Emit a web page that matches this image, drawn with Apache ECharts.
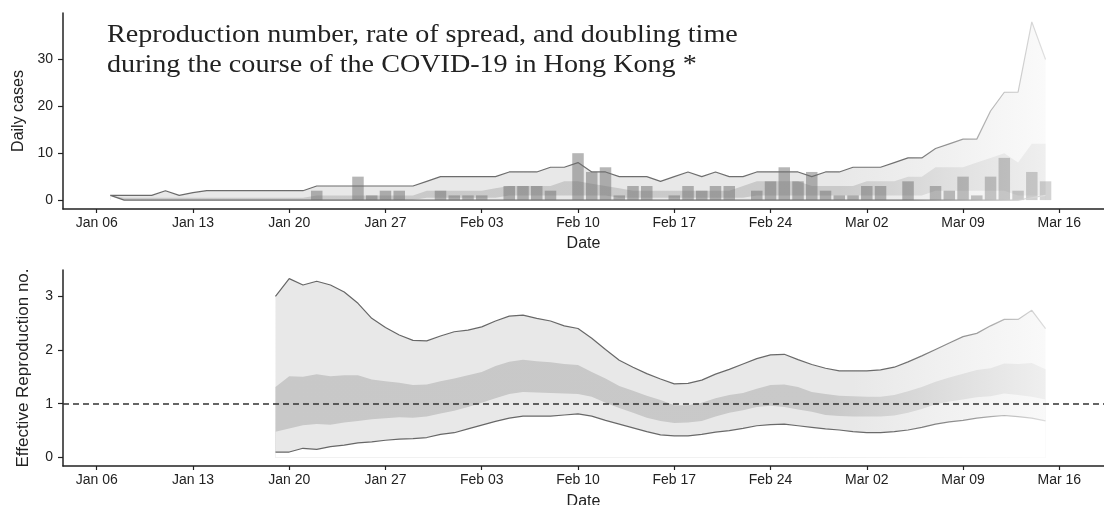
<!DOCTYPE html>
<html>
<head>
<meta charset="utf-8">
<script src="https://cdn.jsdelivr.net/npm/echarts@6/dist/echarts.min.js"></script>
<style>html,body{margin:0;padding:0;background:#fff}#c{width:1104px;height:505px}</style>
</head>
<body>
<div id="c"></div>
<script>
// ---------- data ----------
const titleLines = ['Reproduction number, rate of spread, and doubling time', 'during the course of the COVID-19 in Hong Kong *'];
const originDate = '2020-01-06';           // day 0 of the x axis
const xTickDays = [0, 7, 14, 21, 28, 35, 42, 49, 56, 63, 70];
const xTickLabels = ['Jan 06', 'Jan 13', 'Jan 20', 'Jan 27', 'Feb 03', 'Feb 10', 'Feb 17', 'Feb 24', 'Mar 02', 'Mar 09', 'Mar 16'];
const casesTicks = [0, 10, 20, 30];
const rtTicks = [0, 1, 2, 3];

// daily reported cases, one value per day from Jan 06 to Mar 15
const casesStart = '2020-01-06';
const dailyCases = [
  0, 0, 0, 0, 0, 0, 0, 0, 0, 0, 0, 0, 0, 0, 0, 0,
  2, 0, 0, 5, 1, 2, 2, 0, 0, 2, 1, 1, 1, 0, 3, 3, 3, 2, 0,
  10, 6, 7, 1, 3, 3, 0, 1, 3, 2, 3, 3, 0, 2, 4, 7, 4, 6, 2, 1, 1, 3, 3, 0,
  4, 0, 3, 2, 5, 1, 5, 9, 2, 6, 4
];

// estimated cases ribbons, one value per day from Jan 07 to Mar 15
const estStart = '2020-01-07';
const estUpper90 = [
  1, 1, 1, 1, 2, 1, 1.6, 2, 2, 2, 2, 2, 2, 2, 2,
  3, 3, 3, 3, 3, 3, 3, 3, 4, 5, 5, 5, 5, 5, 6, 6, 6, 7, 7, 8,
  6, 6, 5, 5, 5, 4, 5, 6, 5, 6, 5, 5, 6, 6, 6, 6, 5, 6, 6, 7, 7, 7, 8,
  9, 9, 11, 12, 13, 13, 19, 23, 23, 38, 30
];
const estLower90 = [
  1, 0, 0, 0, 0, 0, 0, 0, 0, 0, 0, 0, 0, 0, 0,
  0, 0, 0, 0, 0, 0, 0, 0, 0, 0, 0, 0, 0, 0, 0, 0, 0, 0, 0, 0,
  0, 0, 0, 0, 0, 0, 0, 0, 0, 0, 0, 0, 0, 0, 0, 0, 0, 0, 0, 0, 0, 0, 0,
  0, 0, 0, 0, 0, 0, 0, 0, 0, 0.5, 1
];
const estUpper50 = [
  1, 0.5, 0.5, 0.5, 0.5, 0.5, 0.5, 0.5, 0.5, 0.5, 0.5, 0.5, 0.5, 0.5, 0.5,
  1, 1, 1, 1, 1, 1, 1, 1, 2, 2, 2, 2, 2, 2.5, 3, 3, 3, 3, 4, 4,
  3.5, 3, 2.5, 2, 2, 2, 2, 2, 2, 2, 2, 3, 4, 4, 4, 4, 3, 3, 3, 3, 4, 4, 4,
  5, 5, 7, 7, 7, 8, 9, 10, 8, 12, 12
];
const estLower50 = [
  1, 0, 0, 0, 0, 0, 0, 0, 0, 0, 0, 0, 0, 0, 0,
  0, 0, 0, 0, 0, 0, 0, 0, 0.5, 0.5, 0.5, 0.5, 0.5, 0.5, 1, 1, 1, 1, 1, 1,
  1, 1, 0.5, 0.5, 0.5, 0.5, 0.5, 0.5, 0.5, 0.5, 0.5, 0.5, 1, 1, 1, 1, 1, 1, 1, 1, 1, 1, 1,
  1, 1, 2, 2, 2, 2, 2, 2, 1, 1, 1
];

// effective reproduction number, one value per day from Jan 19 to Mar 15
const rtStart = '2020-01-19';
const rtUpper90 = [
  3.00, 3.33, 3.21, 3.28, 3.21, 3.08, 2.87, 2.59, 2.42, 2.28, 2.18, 2.17, 2.26, 2.34, 2.37,
  2.43, 2.54, 2.63, 2.65, 2.59, 2.54, 2.45, 2.40, 2.22, 2.01, 1.81, 1.68, 1.56, 1.46, 1.37,
  1.38, 1.44, 1.55, 1.64, 1.74, 1.84, 1.91, 1.92, 1.82, 1.73, 1.66, 1.61, 1.61, 1.61, 1.63,
  1.68, 1.78, 1.89, 2.01, 2.13, 2.25, 2.31, 2.45, 2.57, 2.57, 2.74, 2.40
];
const rtLower90 = [
  0.10, 0.10, 0.17, 0.15, 0.20, 0.23, 0.27, 0.29, 0.32, 0.34, 0.35, 0.37, 0.43, 0.46, 0.53,
  0.60, 0.67, 0.73, 0.77, 0.77, 0.77, 0.79, 0.81, 0.77, 0.69, 0.62, 0.55, 0.48, 0.42, 0.40,
  0.40, 0.43, 0.47, 0.50, 0.54, 0.59, 0.61, 0.62, 0.59, 0.56, 0.53, 0.51, 0.48, 0.46, 0.46,
  0.48, 0.51, 0.56, 0.62, 0.66, 0.69, 0.73, 0.76, 0.78, 0.76, 0.73, 0.68
];
const rtUpper50 = [
  1.31, 1.51, 1.50, 1.55, 1.51, 1.53, 1.53, 1.45, 1.42, 1.39, 1.35, 1.36, 1.42, 1.47, 1.53,
  1.59, 1.70, 1.78, 1.82, 1.79, 1.77, 1.74, 1.72, 1.59, 1.47, 1.33, 1.24, 1.15, 1.07, 0.97,
  0.97, 1.02, 1.10, 1.16, 1.20, 1.28, 1.35, 1.36, 1.31, 1.22, 1.18, 1.15, 1.14, 1.13, 1.13,
  1.16, 1.23, 1.31, 1.41, 1.49, 1.56, 1.63, 1.66, 1.75, 1.74, 1.76, 1.64
];
const rtLower50 = [
  0.48, 0.54, 0.60, 0.62, 0.61, 0.65, 0.68, 0.71, 0.73, 0.75, 0.74, 0.76, 0.82, 0.87, 0.94,
  1.02, 1.10, 1.18, 1.22, 1.21, 1.20, 1.19, 1.18, 1.13, 1.02, 0.92, 0.83, 0.74, 0.68, 0.64,
  0.65, 0.68, 0.76, 0.83, 0.88, 0.94, 0.96, 0.94, 0.89, 0.85, 0.79, 0.77, 0.76, 0.76, 0.76,
  0.78, 0.83, 0.90, 0.99, 1.04, 1.08, 1.12, 1.14, 1.19, 1.16, 1.13, 1.08
];
const rtThreshold = 1;

// ---------- helpers ----------
const DAY = 86400000;
function dayOf(iso) { return Math.round((Date.parse(iso + 'T00:00:00Z') - Date.parse(originDate + 'T00:00:00Z')) / DAY); }
function pairs(startIso, arr) { const s = dayOf(startIso); return arr.map((v, i) => [s + i, v]); }
function grad(stops) {
  return new echarts.graphic.LinearGradient(0, 0, 1, 0, stops.map(s => ({ offset: s[0], color: s[1] })));
}
const FONT = "'Liberation Sans', Arial, sans-serif";

// filled area from the curve down to zero; layered to build nested ribbons
function layer(idx, startIso, arr, fill, z) {
  return {
    type: 'line', xAxisIndex: idx, yAxisIndex: idx, data: pairs(startIso, arr),
    showSymbol: false, symbol: 'none', silent: true, z: z,
    lineStyle: { width: 0, opacity: 0 },
    areaStyle: { color: fill, opacity: 1, origin: 0 }
  };
}
function edge(idx, startIso, arr, color) {
  return { type: 'line', xAxisIndex: idx, yAxisIndex: idx, data: pairs(startIso, arr), showSymbol: false, symbol: 'none',
    lineStyle: { color: color, width: 1.2 }, silent: true, z: 8 };
}

function xAxis(idx) {
  return {
    type: 'value', gridIndex: idx, min: -2.45, max: 73.25,
    name: 'Date', nameLocation: 'middle', nameGap: idx === 0 ? 27 : 28,
    nameTextStyle: { fontFamily: FONT, fontSize: 16, color: '#222' },
    axisLine: { show: true, onZero: false, lineStyle: { color: '#222', width: 1.5 } },
    axisTick: { show: true, length: 4, customValues: xTickDays, lineStyle: { color: '#222', width: 1.2 } },
    axisLabel: { customValues: xTickDays, margin: 7, fontFamily: FONT, fontSize: 14, color: '#222',
      formatter: v => xTickLabels[xTickDays.indexOf(Math.round(v))] || '' },
    splitLine: { show: false }
  };
}
function yAxis(idx, min, max, ticks, name, gap, nameSize) {
  return {
    type: 'value', gridIndex: idx, min: min, max: max,
    name: name, nameLocation: 'middle', nameGap: gap, nameRotate: 90,
    nameTextStyle: { fontFamily: FONT, fontSize: nameSize, color: '#222' },
    axisLine: { show: true, onZero: false, lineStyle: { color: '#222', width: 1.5 } },
    axisTick: { show: true, length: 5, customValues: ticks, lineStyle: { color: '#222', width: 1.2 } },
    axisLabel: { customValues: ticks, margin: 10, fontFamily: FONT, fontSize: 14, color: '#222' },
    splitLine: { show: false }
  };
}

// ---------- series ----------
const topOuter = grad([[0, '#e8e8e8'], [0.78, '#e8e8e8'], [0.9, '#f1f1f1'], [1, '#fafafa']]);
const topInner = grad([[0, '#c9c9c9'], [0.78, '#cacaca'], [0.9, '#e0e0e0'], [1, '#efefef']]);
const topLine = grad([[0, '#6a6a6a'], [0.85, '#707070'], [0.93, '#b0b0b0'], [1, '#e2e2e2']]);
const rtOuter = grad([[0, '#e8e8e8'], [0.75, '#e8e8e8'], [0.86, '#f0f0f0'], [1, '#f9f9f9']]);
const rtInner = grad([[0, '#c8c8c8'], [0.72, '#c9c9c9'], [0.86, '#dcdcdc'], [1, '#efefef']]);
const rtLine = grad([[0, '#666666'], [0.8, '#6a6a6a'], [0.9, '#999999'], [1, '#e0e0e0']]);

const cs = dayOf(casesStart);
const barData = [];
dailyCases.forEach((v, i) => {
  if (v > 0) {
    const d = cs + i;
    const op = d < 60 ? 0.5 : 0.5 - (d - 59) * 0.02;
    barData.push({ value: [d, v], itemStyle: { opacity: op } });
  }
});

const series = [
  layer(0, estStart, estUpper90, topOuter, 1),
  layer(0, estStart, estUpper50, topInner, 2),
  layer(0, estStart, estLower50, topOuter, 3),
  layer(0, estStart, estLower90, '#ffffff', 4),
  { type: 'bar', xAxisIndex: 0, yAxisIndex: 0, data: barData, barWidth: 11.5, silent: true, z: 6,
    itemStyle: { color: '#6e6e6e' } },
  edge(0, estStart, estUpper90, topLine),
  edge(0, estStart, estLower90, topLine),

  layer(1, rtStart, rtUpper90, rtOuter, 1),
  layer(1, rtStart, rtUpper50, rtInner, 2),
  layer(1, rtStart, rtLower50, rtOuter, 3),
  layer(1, rtStart, rtLower90, '#ffffff', 4),
  edge(1, rtStart, rtUpper90, rtLine),
  edge(1, rtStart, rtLower90, rtLine),
  { type: 'line', xAxisIndex: 1, yAxisIndex: 1, data: [], silent: true, z: 9,
    markLine: { silent: true, symbol: ['none', 'none'], label: { show: false }, z: 9,
      lineStyle: { color: '#333', type: [6, 4], width: 1.5 }, data: [{ yAxis: rtThreshold }] } }
];

const chart = echarts.init(document.getElementById('c'), null, { renderer: 'canvas' });
chart.setOption({
  animation: false,
  backgroundColor: '#fff',
  grid: [
    { left: 63, right: 0, top: 13, height: 196, outerBoundsMode: 'none', containLabel: false },
    { left: 63, right: 0, top: 270, height: 196, outerBoundsMode: 'none', containLabel: false }
  ],
  xAxis: [xAxis(0), xAxis(1)],
  yAxis: [
    yAxis(0, -1.9, 39.9, casesTicks, 'Daily cases', 35, 16),
    yAxis(1, -0.16, 3.49, rtTicks, 'Effective Reproduction no.', 31, 17)
  ],
  graphic: [{
    type: 'text', left: 107, top: 20, silent: true, scaleX: 1.125, originX: 0,
    style: { text: titleLines.join('\n'), fontFamily: "'Liberation Serif', 'Times New Roman', serif",
      fontSize: 25, lineHeight: 30, fill: '#222' }
  }],
  series: series
});
</script>
</body>
</html>
